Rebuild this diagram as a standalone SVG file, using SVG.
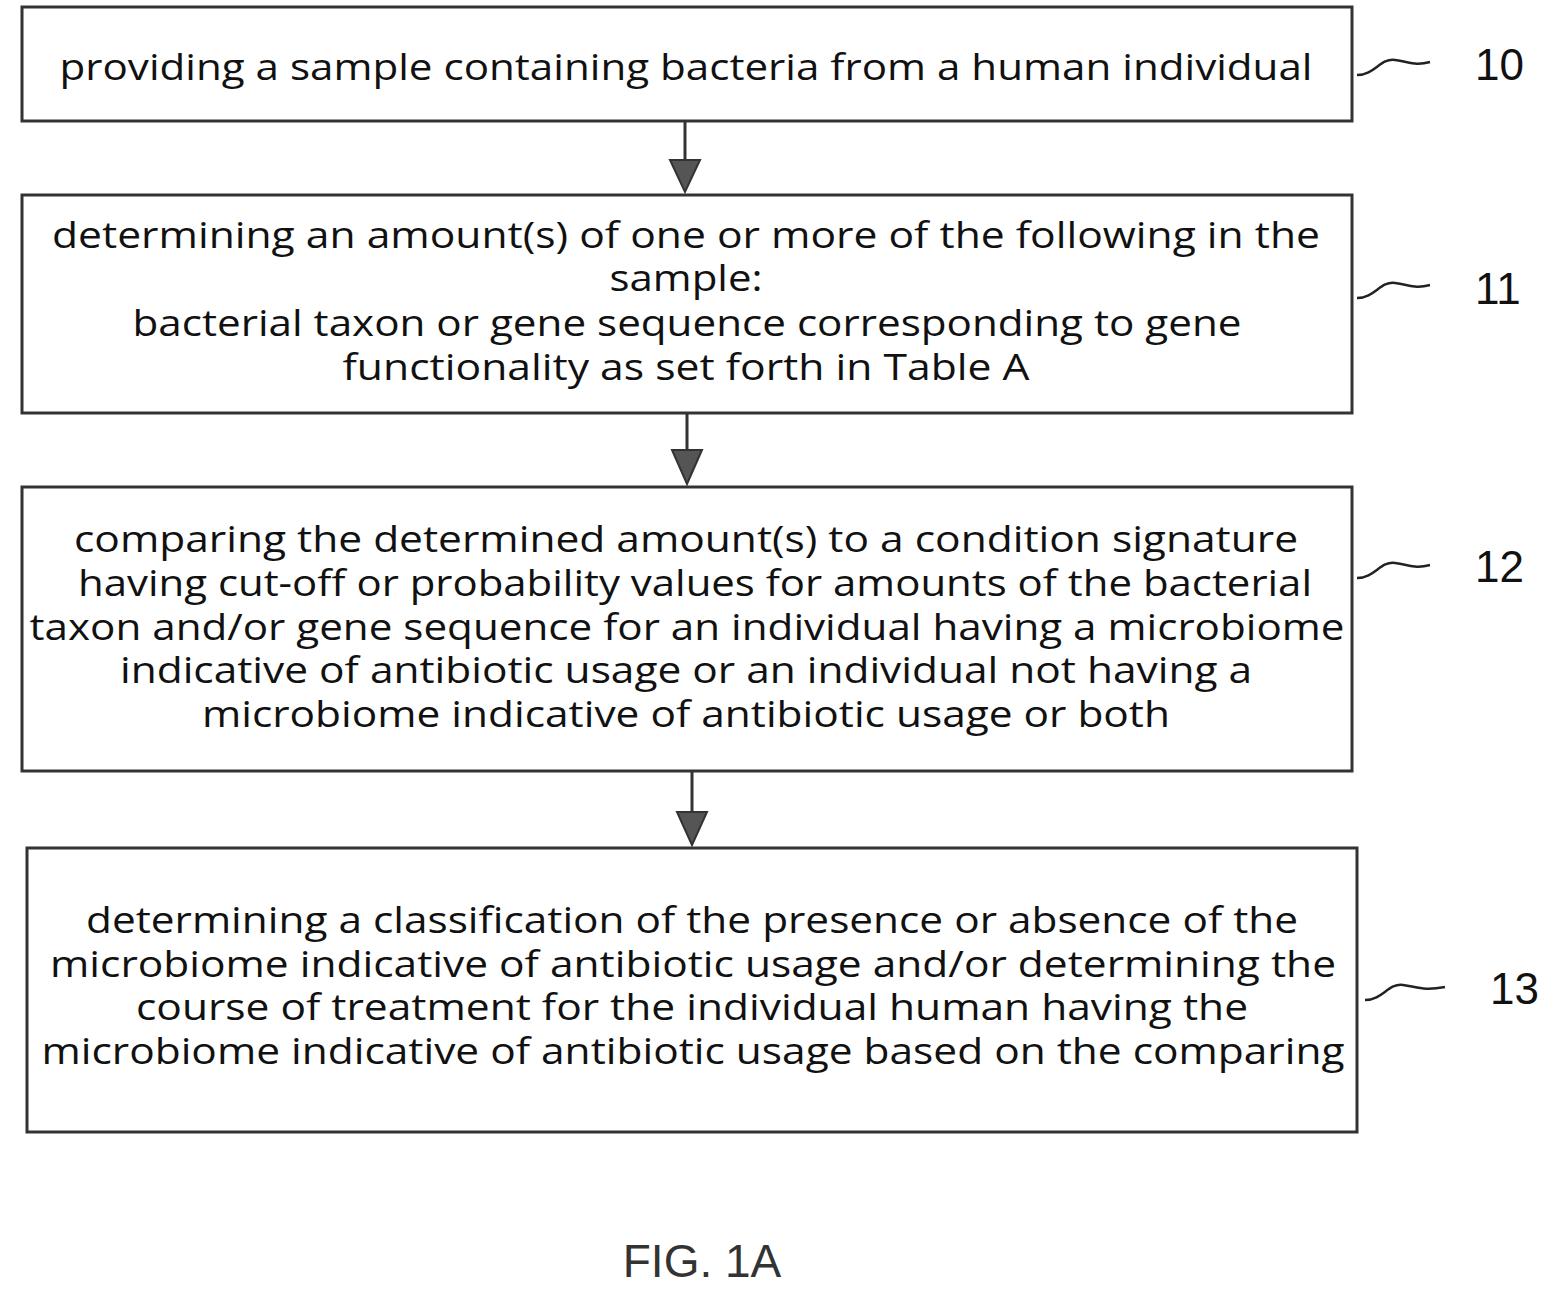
<svg xmlns="http://www.w3.org/2000/svg" width="1562" height="1299" viewBox="0 0 1562 1299">
<style>
.box{fill:#fff;stroke:#333;stroke-width:3}
.t{font-family:"Open Sans","Liberation Sans",sans-serif;font-size:37px;fill:#111;text-anchor:middle}
.lbl{font-family:"Liberation Sans",sans-serif;font-size:44px;fill:#111}
.sq{fill:none;stroke:#222;stroke-width:2.5}
.c{stroke:#333;stroke-width:3}
</style>
<defs>
<marker id="ah" markerWidth="10" markerHeight="10" refX="5" refY="9" orient="auto" markerUnits="userSpaceOnUse" viewBox="0 0 10 10">
<path d="M0,0 L10,0 L5,10 Z" fill="#555"/>
</marker>
</defs>
<rect width="1562" height="1299" fill="#fff"/>
<g id="connectors">
<line class="c" x1="685" y1="121" x2="685" y2="170"/><path d="M670,160 L700,160 L685,192 Z" fill="#555" stroke="#333" stroke-width="2"/>
<line class="c" x1="687" y1="413" x2="687" y2="455"/><path d="M672,450 L702,450 L687,484 Z" fill="#555" stroke="#333" stroke-width="2"/>
<line class="c" x1="692" y1="771" x2="692" y2="815"/><path d="M677,812 L707,812 L692,845 Z" fill="#555" stroke="#333" stroke-width="2"/>
</g>
<g id="n10">
<rect class="box" x="22" y="7" width="1330" height="114"/>
<text class="t" x="686" y="80" textLength="1253" lengthAdjust="spacingAndGlyphs">providing a sample containing bacteria from a human individual</text>
<path class="sq" d="M1357,75 C1375,75 1380,58 1395,60 C1410,62 1415,66 1430,62"/>
<text class="lbl" x="1475" y="80">10</text>
</g>
<g id="n11">
<rect class="box" x="22" y="195" width="1330" height="218"/>
<text class="t" x="686" y="248" textLength="1268" lengthAdjust="spacingAndGlyphs">determining an amount(s) of one or more of the following in the</text>
<text class="t" x="686" y="291" textLength="153" lengthAdjust="spacingAndGlyphs">sample:</text>
<text class="t" x="687" y="336" textLength="1109" lengthAdjust="spacingAndGlyphs">bacterial taxon or gene sequence corresponding to gene</text>
<text class="t" x="686" y="380" textLength="687" lengthAdjust="spacingAndGlyphs">functionality as set forth in Table A</text>
<path class="sq" d="M1357,298 C1375,298 1380,281 1395,283 C1410,285 1415,289 1430,285"/>
<text class="lbl" x="1475" y="304">11</text>
</g>
<g id="n12">
<rect class="box" x="22" y="487" width="1330" height="284"/>
<text class="t" x="686" y="552" textLength="1224" lengthAdjust="spacingAndGlyphs">comparing the determined amount(s) to a condition signature</text>
<text class="t" x="695" y="596" textLength="1234" lengthAdjust="spacingAndGlyphs">having cut-off or probability values for amounts of the bacterial</text>
<text class="t" x="687" y="640" textLength="1315" lengthAdjust="spacingAndGlyphs">taxon and/or gene sequence for an individual having a microbiome</text>
<text class="t" x="686" y="683" textLength="1132" lengthAdjust="spacingAndGlyphs">indicative of antibiotic usage or an individual not having a</text>
<text class="t" x="686" y="727" textLength="968" lengthAdjust="spacingAndGlyphs">microbiome indicative of antibiotic usage or both</text>
<path class="sq" d="M1357,578 C1375,578 1380,561 1395,563 C1410,565 1415,569 1430,565"/>
<text class="lbl" x="1475" y="582">12</text>
</g>
<g id="n13">
<rect class="box" x="27" y="848" width="1330" height="284"/>
<text class="t" x="692" y="933" textLength="1212" lengthAdjust="spacingAndGlyphs">determining a classification of the presence or absence of the</text>
<text class="t" x="693" y="977" textLength="1286" lengthAdjust="spacingAndGlyphs">microbiome indicative of antibiotic usage and/or determining the</text>
<text class="t" x="692" y="1020" textLength="1112" lengthAdjust="spacingAndGlyphs">course of treatment for the individual human having the</text>
<text class="t" x="693" y="1064" textLength="1303" lengthAdjust="spacingAndGlyphs">microbiome indicative of antibiotic usage based on the comparing</text>
<path class="sq" d="M1365,1000 C1383,1000 1388,983 1403,985 C1418,987 1423,991 1445,987"/>
<text class="lbl" x="1490" y="1004">13</text>
</g>
<text class="lbl" x="702" y="1277" text-anchor="middle" style="font-size:46px;fill:#333">FIG. 1A</text>
</svg>
